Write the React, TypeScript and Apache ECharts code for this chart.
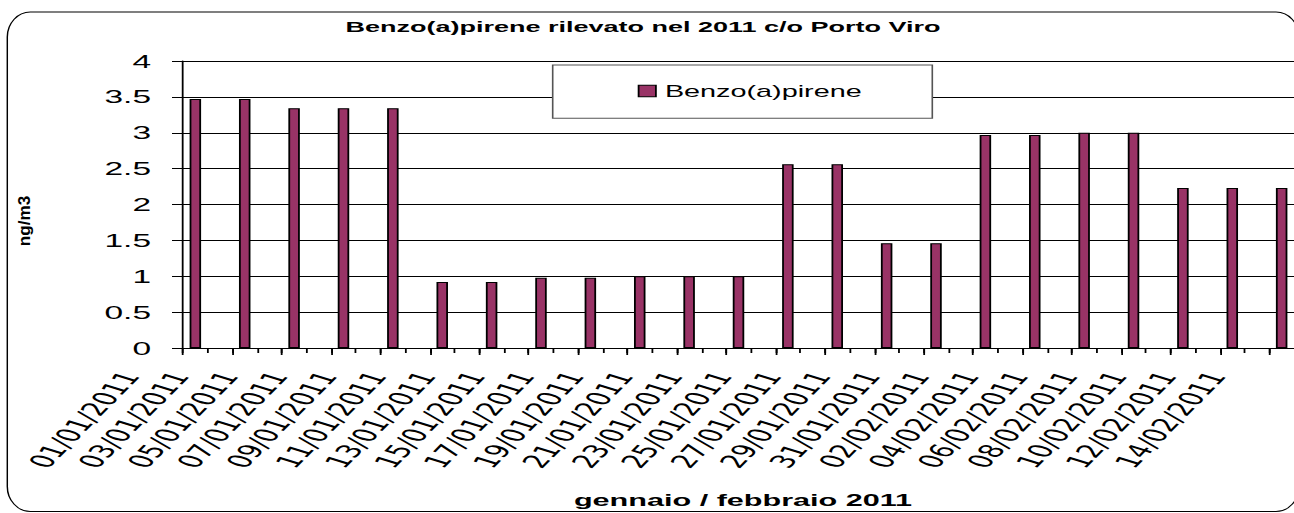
import React, { useEffect, useRef } from "react";
import * as echarts from "echarts";

// ---- data ----
const sampleDates = [
  "01/01/2011", "03/01/2011", "05/01/2011", "07/01/2011", "09/01/2011", "11/01/2011",
  "13/01/2011", "15/01/2011", "17/01/2011", "19/01/2011", "21/01/2011", "23/01/2011",
  "25/01/2011", "27/01/2011", "29/01/2011", "31/01/2011", "02/02/2011", "04/02/2011",
  "06/02/2011", "08/02/2011", "10/02/2011", "12/02/2011", "14/02/2011",
];
const benzoValues = [
  3.47, 3.47, 3.34, 3.34, 3.34, 0.92, 0.92, 0.98, 0.98, 1.0, 1.0, 1.0,
  2.56, 2.56, 1.46, 1.46, 2.97, 2.97, 3.0, 3.0, 2.23, 2.23, 2.23,
];
const yTicks = { min: 0, max: 4, interval: 0.5 };
const seriesName = "Benzo(a)pirene";
const titleText = "Benzo(a)pirene rilevato nel 2011 c/o Porto Viro";
const xTitle = "gennaio / febbraio 2011";
const yTitle = "ng/m3";

// every calendar day of the date axis (01/01/2011 .. 14/02/2011)
function buildDays(): string[] {
  const out: string[] = [];
  const d = new Date(Date.UTC(2011, 0, 1));
  const end = new Date(Date.UTC(2011, 1, 14));
  while (d.getTime() <= end.getTime()) {
    const dd = String(d.getUTCDate()).padStart(2, "0");
    const mm = String(d.getUTCMonth() + 1).padStart(2, "0");
    out.push(`${dd}/${mm}/${d.getUTCFullYear()}`);
    d.setUTCDate(d.getUTCDate() + 1);
  }
  return out;
}
const allDays = buildDays();
const dayValues = allDays.map((day) => {
  const i = sampleDates.indexOf(day);
  return i >= 0 ? benzoValues[i] : null;
});

// ---- layout (chart is drawn narrow, then stretched horizontally like the source) ----
const PAGE_W = 1294;
const PAGE_H = 513;
const INNER_W = 719;
const SX = PAGE_W / INNER_W;
const px = (screenX: number) => screenX / SX;

const FONT = "'Liberation Sans', Arial, sans-serif";
const LABEL_FONT = "'DejaVu Sans', 'Liberation Sans', sans-serif";

function framePath(): string {
  const L = px(7.3), R = px(1299), T = 12, B = 511.5;
  const rx = px(23), ry = 25;
  return [
    `M ${L + rx} ${T}`,
    `L ${R - rx} ${T}`,
    `A ${rx} ${ry} 0 0 1 ${R} ${T + ry}`,
    `L ${R} ${B - ry}`,
    `A ${rx} ${ry} 0 0 1 ${R - rx} ${B}`,
    `L ${L + rx} ${B}`,
    `A ${rx} ${ry} 0 0 1 ${L} ${B - ry}`,
    `L ${L} ${T + ry}`,
    `A ${rx} ${ry} 0 0 1 ${L + rx} ${T}`,
    "Z",
  ].join(" ");
}

export default function App() {
  const ref = useRef<HTMLDivElement>(null);

  useEffect(() => {
    if (!ref.current) return;
    echarts.graphic.registerShape("frame", echarts.graphic.extendPath(framePath(), {}));
    const chart = echarts.init(ref.current, null, { renderer: "svg" });
    const gridLeft = px(183);
    const labelShift = 36; // labels sit down-left of their day, as in the source
    const gridBottom = PAGE_H - 348;
    const option: any = {
      animation: false,
      backgroundColor: "#ffffff",
      textStyle: { fontFamily: FONT },
      title: {
        text: titleText,
        left: px(643),
        top: 19,
        padding: 0,
        textAlign: "center",
        textStyle: { fontSize: 15, fontWeight: "bold", color: "#000", fontFamily: FONT },
      },
      legend: {
        data: [seriesName],
        left: px(637.7),
        top: 83,
        padding: 0,
        z: 100,
        itemWidth: px(17.3),
        itemHeight: 11.6,
        itemGap: 0,
        icon: "rect",
        textStyle: { fontSize: 16, color: "#000", fontFamily: FONT },
        itemStyle: { color: "#993366", borderColor: "#000", borderWidth: 1 },
      },
      grid: [
        { left: gridLeft, right: 0, top: 61, bottom: gridBottom, containLabel: false },
        {
          left: gridLeft - labelShift,
          right: labelShift,
          top: 61,
          bottom: gridBottom,
          containLabel: false,
        },
      ],
      xAxis: [
        {
          type: "category",
          gridIndex: 0,
          data: allDays,
          boundaryGap: true,
          axisLine: { show: true, lineStyle: { color: "#000", width: 1 } },
          axisTick: { show: true, interval: 0, length: 5, lineStyle: { color: "#000" } },
          axisLabel: { show: false },
          splitLine: { show: false },
        },
        {
          type: "category",
          gridIndex: 0,
          data: allDays,
          boundaryGap: true,
          position: "bottom",
          axisLine: { show: false },
          axisTick: { show: true, interval: 1, length: 7, lineStyle: { color: "#000" } },
          axisLabel: { show: false },
          splitLine: { show: false },
        },
        {
          type: "category",
          gridIndex: 1,
          data: allDays,
          boundaryGap: true,
          position: "bottom",
          axisLine: { show: false },
          axisTick: { show: false },
          axisLabel: {
            interval: 1,
            rotate: 61,
            margin: 25,
            fontSize: 18.5,
            color: "#000",
            fontFamily: LABEL_FONT,
          },
          splitLine: { show: false },
        },
      ],
      yAxis: [
        {
          type: "value",
          gridIndex: 0,
          min: yTicks.min,
          max: yTicks.max,
          interval: yTicks.interval,
          axisLine: { show: true, lineStyle: { color: "#000", width: 1 } },
          axisTick: { show: true, inside: false, length: px(11), lineStyle: { color: "#000" } },
          axisLabel: { margin: px(32), fontSize: 18.6, color: "#000", fontFamily: FONT },
          splitLine: { show: true, lineStyle: { color: "#000", width: 1 } },
        },
        {
          type: "value",
          gridIndex: 1,
          min: yTicks.min,
          max: yTicks.max,
          show: false,
        },
      ],
      series: [
        {
          name: seriesName,
          type: "bar",
          xAxisIndex: 0,
          yAxisIndex: 0,
          data: dayValues,
          barWidth: px(11.5),
          itemStyle: { color: "#993366", borderColor: "#000", borderWidth: 1 },
        },
      ],
      graphic: [
        {
          type: "frame",
          x: 0,
          y: 0,
          silent: true,
          z: 1,
          style: { fill: "none", stroke: "#000", lineWidth: 0.8 },
        },
        {
          type: "rect",
          z: 50,
          silent: true,
          shape: { x: px(552.7), y: 65, width: px(932.3 - 552.7), height: 53.3 },
          style: { fill: "#fff", stroke: "#555", lineWidth: 0.9 },
        },
        {
          type: "text",
          z: 50,
          x: px(743),
          y: 500,
          style: {
            text: xTitle,
            fontSize: 17,
            fontWeight: "bold",
            fontFamily: FONT,
            fill: "#000",
            align: "center",
            verticalAlign: "middle",
          },
        },
        {
          type: "text",
          z: 50,
          x: px(25),
          y: 221,
          rotation: Math.PI / 2,
          scaleX: 1.9,
          style: {
            text: yTitle,
            fontSize: 9,
            fontWeight: "bold",
            fontFamily: FONT,
            fill: "#000",
            align: "center",
            verticalAlign: "middle",
          },
        },
      ],
    };
    chart.setOption(option);
    return () => chart.dispose();
  }, []);

  return (
    <div
      ref={ref}
      style={{
        position: "absolute",
        left: 0,
        top: 0,
        width: INNER_W,
        height: PAGE_H,
        transform: `scaleX(${SX})`,
        transformOrigin: "0 0",
        background: "#fff",
      }}
    />
  );
}
